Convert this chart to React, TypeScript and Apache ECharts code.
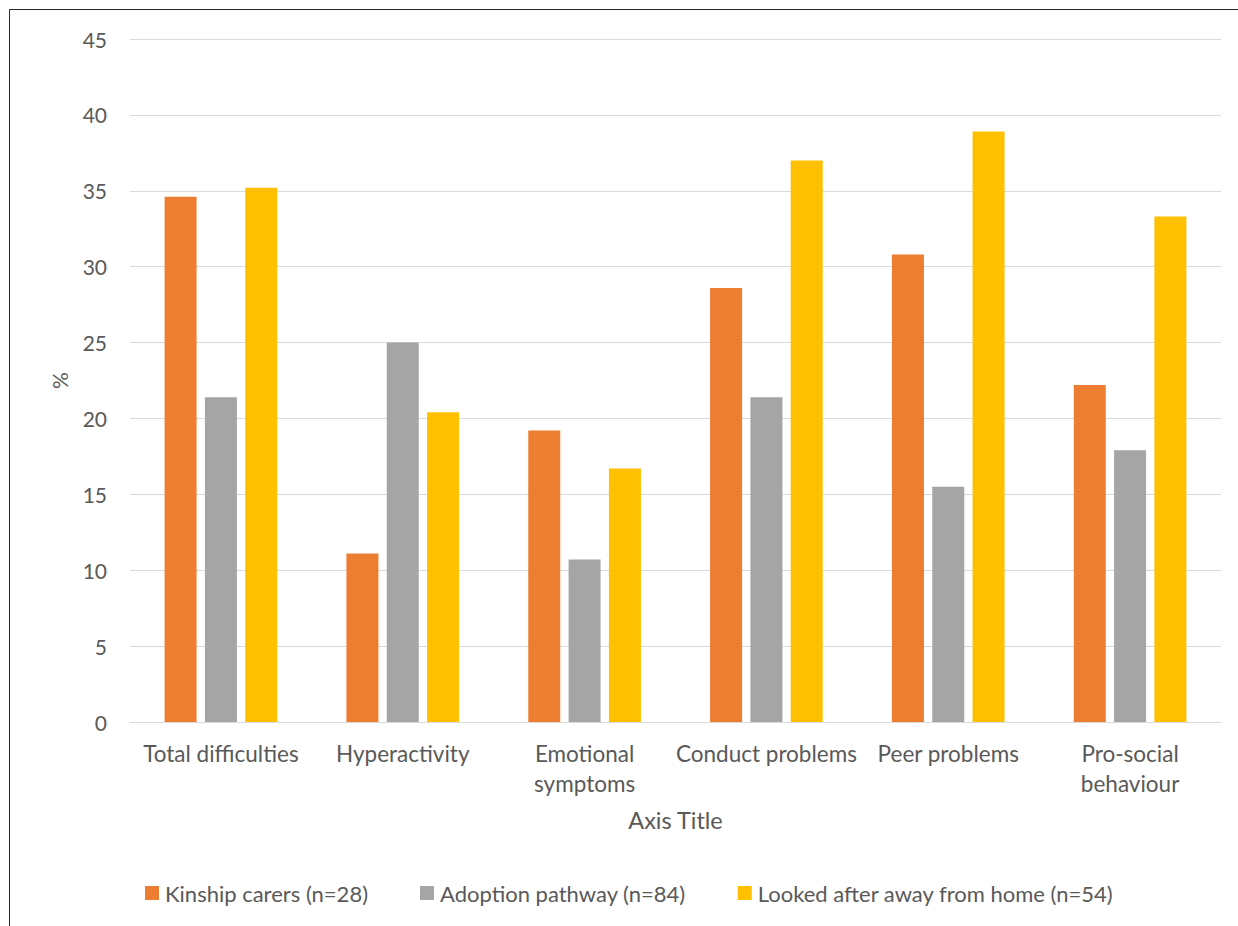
import React, { useEffect, useRef } from "react";
import * as echarts from "echarts";

const categories = [
  "Total difficulties",
  "Hyperactivity",
  "Emotional\nsymptoms",
  "Conduct problems",
  "Peer problems",
  "Pro-social\nbehaviour",
];
const kinship = [34.6, 11.1, 19.2, 28.6, 30.8, 22.2];
const adoption = [21.4, 25.0, 10.7, 21.4, 15.5, 17.9];
const lookedAfter = [35.2, 20.4, 16.7, 37.0, 38.9, 33.3];
const seriesNames = [
  "Kinship carers (n=28)",
  "Adoption pathway (n=84)",
  "Looked after away from home (n=54)",
];
const colors = ["#ED7D31", "#A5A5A5", "#FFC000"];

const FONT = "Lato";
const TEXT = "#595959";

export default function App() {
  const ref = useRef<HTMLDivElement>(null);
  useEffect(() => {
    if (!ref.current) return;
    const chart = echarts.init(ref.current, null, { renderer: "svg" });
    const data = [kinship, adoption, lookedAfter];
    chart.setOption({
      animation: false,
      textStyle: { fontFamily: FONT, color: TEXT },
      grid: { left: 130, right: 17, top: 39, bottom: 204, containLabel: false },
      legend: {
        left: 145,
        top: 882,
        padding: 0,
        itemWidth: 14,
        itemHeight: 14,
        itemGap: 52,
        icon: "rect",
        textStyle: { fontFamily: FONT, fontSize: 22, lineHeight: 22, color: TEXT, padding: [0, 0, 0, 1] },
        data: seriesNames,
      },
      xAxis: {
        type: "category",
        data: categories,
        name: "Axis Title",
        nameLocation: "middle",
        nameGap: 86,
        nameTextStyle: { fontFamily: FONT, fontSize: 23.5, color: TEXT },
        axisLine: { lineStyle: { color: "#D9D9D9", width: 1 } },
        axisTick: { show: false },
        axisLabel: {
          interval: 0,
          margin: 16,
          fontFamily: FONT,
          fontSize: 22.5,
          color: TEXT,
          lineHeight: 30,
        },
      },
      yAxis: {
        type: "value",
        min: 0,
        max: 45,
        interval: 5,
        name: "%",
        nameLocation: "middle",
        nameGap: 60,
        nameRotate: 90,
        nameTextStyle: { fontFamily: FONT, fontSize: 21, color: TEXT },
        axisLine: { show: false },
        axisTick: { show: false },
        axisLabel: { margin: 23, fontFamily: FONT, fontSize: 21, color: TEXT },
        splitLine: { lineStyle: { color: "#D9D9D9", width: 1 } },
      },
      series: seriesNames.map((name, i) => ({
        name,
        type: "bar",
        data: data[i],
        barWidth: 32,
        barGap: "26%",
        itemStyle: { color: colors[i] },
      })),
      graphic: [
        {
          type: "polyline",
          shape: { points: [[9.5, 926], [9.5, 9.5], [1238, 9.5]] },
          style: { stroke: "#262626", lineWidth: 1, fill: "none" },
          silent: true,
        },
      ],
    });
    return () => chart.dispose();
  }, []);
  return (
    <div
      ref={ref}
      style={{ position: "absolute", left: 0, top: 0, width: 1238, height: 926, background: "#fff" }}
    />
  );
}
